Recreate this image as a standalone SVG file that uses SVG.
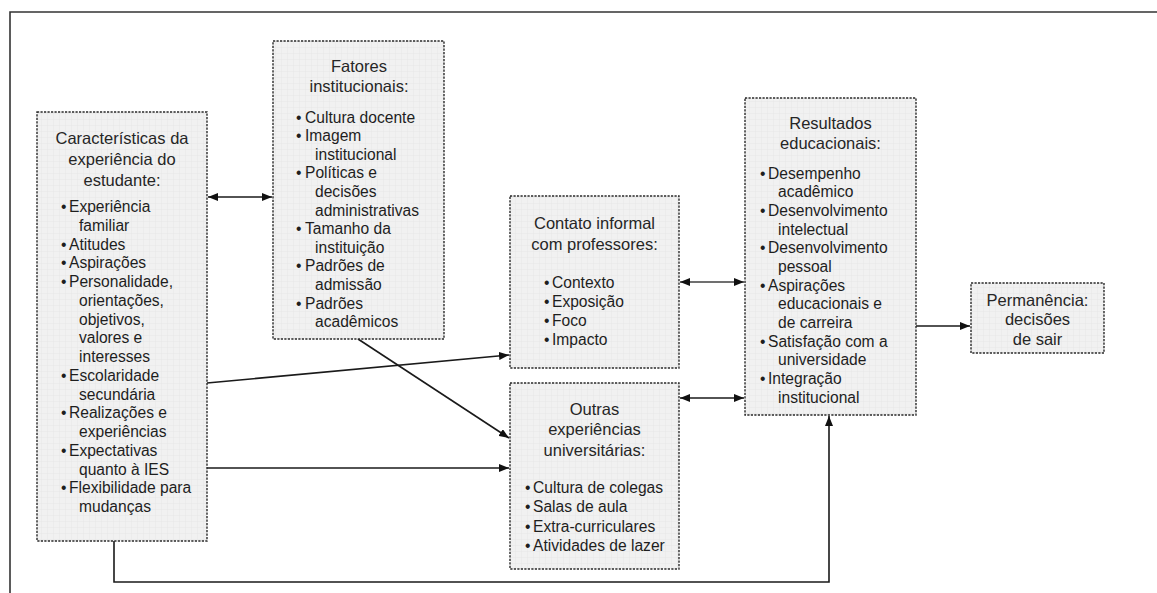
<svg xmlns="http://www.w3.org/2000/svg" width="1157" height="593" viewBox="0 0 1157 593">
  <style>
    .box { fill: url(#grid); stroke: #2a2a2a; stroke-width: 1.4; stroke-dasharray: 2.2 1.3; }
    .ttl { font-family: "Liberation Sans", Arial, sans-serif; font-size: 16.5px; fill: #262626; text-anchor: middle; }
    .itm { font-family: "Liberation Sans", Arial, sans-serif; font-size: 15.6px; fill: #1e1e1e; }
    .ln { fill: none; stroke: #1a1a1a; stroke-width: 1.6; }
    .lng { fill: none; stroke: #707070; stroke-width: 1.8; }
    .frame { fill: none; stroke: #333; stroke-width: 1.6; }
  </style>
  <defs>
    <pattern id="grid" width="6" height="6" patternUnits="userSpaceOnUse">
      <rect width="6" height="6" fill="#f1f1f1"/>
      <path d="M6 0V6M0 6H6" stroke="#e3e3e3" stroke-width="0.6"/>
    </pattern>
    <marker id="ah" viewBox="0 0 10 8" refX="10" refY="4" markerWidth="10" markerHeight="8" markerUnits="userSpaceOnUse" orient="auto-start-reverse">
      <path d="M0 0L10 4L0 8z" fill="#111"/>
    </marker>
  </defs>

  <rect width="1157" height="593" fill="#ffffff"/>
  <!-- outer frame -->
  <path class="frame" d="M10 593V12H1157"/>

  <g id="connectors">
    <line class="ln" x1="208" y1="197" x2="272" y2="197" marker-start="url(#ah)" marker-end="url(#ah)"/>
    <line class="ln" x1="207" y1="383" x2="509" y2="355" marker-end="url(#ah)"/>
    <line class="ln" x1="358" y1="339" x2="509" y2="438" marker-end="url(#ah)"/>
    <line class="ln" x1="207" y1="468" x2="509" y2="468" marker-end="url(#ah)"/>
    <line class="lng" x1="680" y1="282" x2="744" y2="282" marker-start="url(#ah)" marker-end="url(#ah)"/>
    <line class="ln" x1="680" y1="398" x2="744" y2="398" marker-start="url(#ah)" marker-end="url(#ah)"/>
    <line class="ln" x1="916" y1="326" x2="970" y2="326" marker-end="url(#ah)"/>
    <path class="ln" d="M114 541V582H829V416" marker-end="url(#ah)"/>
  </g>

  <g id="caracteristicas">
    <rect class="box" x="37" y="112" width="170" height="429"/>
    <text class="ttl" x="122" y="144">Características da</text>
    <text class="ttl" x="122" y="165">experiência do</text>
    <text class="ttl" x="122" y="186">estudante:</text>
    <text class="itm" x="61" y="212">•<tspan x="69">Experiência</tspan></text>
    <text class="itm" x="79" y="230.75">familiar</text>
    <text class="itm" x="61" y="249.5">•<tspan x="69">Atitudes</tspan></text>
    <text class="itm" x="61" y="268.25">•<tspan x="69">Aspirações</tspan></text>
    <text class="itm" x="61" y="287">•<tspan x="69">Personalidade,</tspan></text>
    <text class="itm" x="79" y="305.75">orientações,</text>
    <text class="itm" x="79" y="324.5">objetivos,</text>
    <text class="itm" x="79" y="343.25">valores e</text>
    <text class="itm" x="79" y="362">interesses</text>
    <text class="itm" x="61" y="380.75">•<tspan x="69">Escolaridade</tspan></text>
    <text class="itm" x="79" y="399.5">secundária</text>
    <text class="itm" x="61" y="418.25">•<tspan x="69">Realizações e</tspan></text>
    <text class="itm" x="79" y="437">experiências</text>
    <text class="itm" x="61" y="455.75">•<tspan x="69">Expectativas</tspan></text>
    <text class="itm" x="79" y="474.5">quanto à IES</text>
    <text class="itm" x="61" y="493.25">•<tspan x="69">Flexibilidade para</tspan></text>
    <text class="itm" x="79" y="512">mudanças</text>
  </g>

  <g id="fatores">
    <rect class="box" x="273" y="41" width="171" height="298"/>
    <text class="ttl" x="359" y="72">Fatores</text>
    <text class="ttl" x="359" y="92">institucionais:</text>
    <text class="itm" x="296" y="122.5">•<tspan x="305">Cultura docente</tspan></text>
    <text class="itm" x="296" y="141.1">•<tspan x="305">Imagem</tspan></text>
    <text class="itm" x="315" y="159.7">institucional</text>
    <text class="itm" x="296" y="178.3">•<tspan x="305">Políticas e</tspan></text>
    <text class="itm" x="315" y="196.9">decisões</text>
    <text class="itm" x="315" y="215.5">administrativas</text>
    <text class="itm" x="296" y="234.1">•<tspan x="305">Tamanho da</tspan></text>
    <text class="itm" x="315" y="252.7">instituição</text>
    <text class="itm" x="296" y="271.3">•<tspan x="305">Padrões de</tspan></text>
    <text class="itm" x="315" y="289.9">admissão</text>
    <text class="itm" x="296" y="308.5">•<tspan x="305">Padrões</tspan></text>
    <text class="itm" x="315" y="327.1">acadêmicos</text>
  </g>

  <g id="contato">
    <rect class="box" x="510" y="196" width="169" height="172"/>
    <text class="ttl" x="594.5" y="229">Contato informal</text>
    <text class="ttl" x="594.5" y="250">com professores:</text>
    <text class="itm" x="544" y="287.5">•<tspan x="552">Contexto</tspan></text>
    <text class="itm" x="544" y="306.5">•<tspan x="552">Exposição</tspan></text>
    <text class="itm" x="544" y="325.5">•<tspan x="552">Foco</tspan></text>
    <text class="itm" x="544" y="344.5">•<tspan x="552">Impacto</tspan></text>
  </g>

  <g id="outras">
    <rect class="box" x="510" y="383" width="169" height="186"/>
    <text class="ttl" x="594.5" y="415">Outras</text>
    <text class="ttl" x="594.5" y="435">experiências</text>
    <text class="ttl" x="594.5" y="456">universitárias:</text>
    <text class="itm" x="525" y="492.5">•<tspan x="533">Cultura de colegas</tspan></text>
    <text class="itm" x="525" y="512">•<tspan x="533">Salas de aula</tspan></text>
    <text class="itm" x="525" y="531.5">•<tspan x="533">Extra-curriculares</tspan></text>
    <text class="itm" x="525" y="551">•<tspan x="533">Atividades de lazer</tspan></text>
  </g>

  <g id="resultados">
    <rect class="box" x="745" y="98" width="171" height="317"/>
    <text class="ttl" x="830.5" y="129">Resultados</text>
    <text class="ttl" x="830.5" y="149">educacionais:</text>
    <text class="itm" x="760" y="178.7">•<tspan x="768">Desempenho</tspan></text>
    <text class="itm" x="778" y="197.4">acadêmico</text>
    <text class="itm" x="760" y="216">•<tspan x="768">Desenvolvimento</tspan></text>
    <text class="itm" x="778" y="234.7">intelectual</text>
    <text class="itm" x="760" y="253.4">•<tspan x="768">Desenvolvimento</tspan></text>
    <text class="itm" x="778" y="272">pessoal</text>
    <text class="itm" x="760" y="290.7">•<tspan x="768">Aspirações</tspan></text>
    <text class="itm" x="778" y="309.4">educacionais e</text>
    <text class="itm" x="778" y="328">de carreira</text>
    <text class="itm" x="760" y="346.7">•<tspan x="768">Satisfação com a</tspan></text>
    <text class="itm" x="778" y="365.4">universidade</text>
    <text class="itm" x="760" y="384">•<tspan x="768">Integração</tspan></text>
    <text class="itm" x="778" y="402.7">institucional</text>
  </g>

  <g id="permanencia">
    <rect class="box" x="971" y="283" width="133" height="70"/>
    <text class="ttl" x="1037.5" y="306">Permanência:</text>
    <text class="ttl" x="1037.5" y="325">decisões</text>
    <text class="ttl" x="1037.5" y="345">de sair</text>
  </g>
</svg>
